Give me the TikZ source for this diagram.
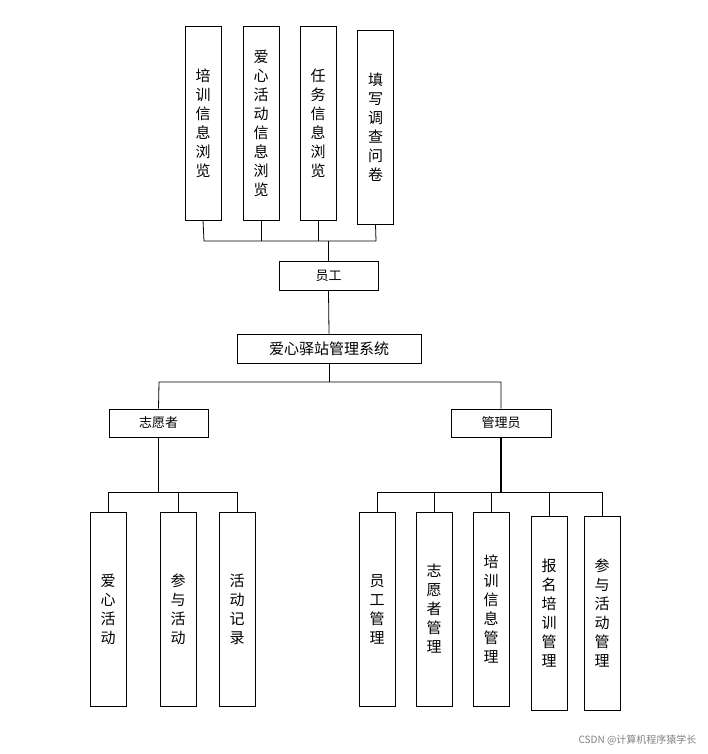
\documentclass[tikz,border=0pt]{standalone}
\usepackage{fontspec}
\setmainfont{Noto Sans CJK SC}
\begin{document}
\begin{tikzpicture}[x=1pt,y=-1pt,
 vb/.style={draw,line width=0.8pt,minimum width=36pt,minimum height=194pt,align=center,font=\fontsize{15}{19}\selectfont,inner sep=0pt},
 hb/.style={draw,line width=0.8pt,minimum height=29pt,inner sep=0pt,font=\fontsize{13}{15}\selectfont},
 ln/.style={line width=0.8pt}]
\useasboundingbox (0,0) rectangle (708,754);
\node[vb] (t1) at (203,123) {培\\训\\信\\息\\浏\\览};
\node[vb] (t2) at (261,123) {爱\\心\\活\\动\\信\\息\\浏\\览};
\node[vb] (t3) at (318,123) {任\\务\\信\\息\\浏\\览};
\node[vb] (t4) at (375.5,127) {填\\写\\调\\查\\问\\卷};
\node[hb,minimum width=99pt] (yg) at (328.5,275.5) {员工};
\node[hb,minimum width=184pt,font=\fontsize{15}{17}\selectfont] (sys) at (329,348.5) {爱心驿站管理系统};
\node[hb,minimum width=99pt,minimum height=28pt] (zy) at (158.5,423) {志愿者};
\node[hb,minimum width=100pt,minimum height=28pt] (gl) at (501,423) {管理员};
\node[vb] (a1) at (108,609) {爱\\心\\活\\动};
\node[vb] (a2) at (178,609) {参\\与\\活\\动};
\node[vb] (a3) at (237,609) {活\\动\\记\\录};
\node[vb] (b1) at (377,609) {员\\工\\管\\理};
\node[vb] (b2) at (434,609) {志\\愿\\者\\管\\理};
\node[vb] (b3) at (491,609) {培\\训\\信\\息\\管\\理};
\node[vb] (b4) at (549,613) {报\\名\\培\\训\\管\\理};
\node[vb] (b5) at (602,613) {参\\与\\活\\动\\管\\理};
\coordinate (j1) at (204,241);
\draw[ln] (t1.south) -- (j1) -- (376,241) -- (t4.south);
\draw[ln] (t2.south) -- (t2.south|-j1);
\draw[ln] (t3.south) -- (t3.south|-j1);
\draw[ln] (yg.north) -- (yg.north|-j1);
\draw[ln] (yg.south) -- (sys.north);
\coordinate (j2) at (159,382);
\draw[ln] (sys.south) -- (sys.south|-j2);
\draw[ln] (zy.north) -- (j2) -- (501,382) -- (gl.north);
\coordinate (j3) at (108,492);
\draw[line width=1.6pt] (zy.south) -- (zy.south|-j3);
\draw[ln] (a1.north) -- (j3) -- (237,492) -- (a3.north);
\draw[ln] (a2.north) -- (a2.north|-j3);
\coordinate (j4) at (377,492);
\draw[line width=1.6pt] (gl.south) -- (gl.south|-j4);
\draw[ln] (b1.north) -- (j4) -- (602,492) -- (b5.north);
\draw[ln] (b2.north) -- (b2.north|-j4);
\draw[ln] (b3.north) -- (b3.north|-j4);
\draw[ln] (b4.north) -- (b4.north|-j4);
\node[text=gray,font=\fontsize{10}{12}\selectfont,anchor=east] (wm) at (700,740) {CSDN @计算机程序猿学长};
\end{tikzpicture}
\end{document}
